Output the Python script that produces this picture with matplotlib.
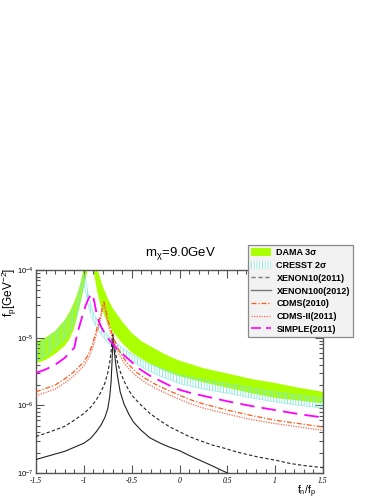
import matplotlib
matplotlib.use('Agg')
import numpy as np
import matplotlib.pyplot as plt
from matplotlib.patches import Patch
from matplotlib.lines import Line2D
from matplotlib.ticker import MultipleLocator, LogLocator, NullFormatter

plt.rcParams['font.family'] = ['Liberation Sans', 'DejaVu Sans']
plt.rcParams['mathtext.fontset'] = 'custom'
plt.rcParams['mathtext.rm'] = 'Liberation Sans'
plt.rcParams['mathtext.it'] = 'Liberation Serif:italic'
plt.rcParams['mathtext.default'] = 'regular'
plt.rcParams['hatch.linewidth'] = 0.6

# all y values are log10(f_p / GeV^-2)
dama_x  = [-1.5, -1.4, -1.3, -1.2, -1.15, -1.1, -1.05, -1.02, -1.0, -0.96, -0.93, -0.90, -0.86, -0.83, -0.8, -0.75, -0.7, -0.6, -0.5, -0.4, -0.3, -0.2, -0.1, 0.0, 0.25, 0.5, 0.75, 1.0, 1.25, 1.5]
dama_hi = [-5.06, -5.00, -4.90, -4.74, -4.62, -4.47, -4.27, -4.10, -3.95, -3.6, -3.4, -3.6, -3.97, -4.12, -4.25, -4.42, -4.56, -4.76, -4.93, -5.05, -5.13, -5.21, -5.28, -5.34, -5.45, -5.53, -5.61, -5.67, -5.74, -5.80]
dama_lo = [-5.38, -5.33, -5.24, -5.12, -5.02, -4.86, -4.58, -4.40, -4.25, -4.0, -3.85, -4.0, -4.32, -4.50, -4.62, -4.79, -4.91, -5.08, -5.22, -5.31, -5.39, -5.46, -5.52, -5.57, -5.66, -5.74, -5.82, -5.89, -5.93, -5.97]

cresst_x  = [-1.5, -1.4, -1.3, -1.2, -1.15, -1.1, -1.07, -1.04, -1.02, -1.0, -0.98, -0.95, -0.92, -0.89, -0.86, -0.83, -0.75, -0.66, -0.57, -0.48, -0.4, -0.31, -0.2, -0.1, 0.0, 0.25, 0.5, 0.75, 1.0, 1.25, 1.5]
cresst_hi = [-5.11, -5.03, -4.92, -4.77, -4.67, -4.53, -4.42, -4.27, -4.15, -4.05, -4.15, -4.38, -4.55, -4.66, -4.74, -4.82, -4.96, -5.08, -5.18, -5.26, -5.33, -5.39, -5.45, -5.50, -5.55, -5.62, -5.68, -5.74, -5.80, -5.85, -5.89]
cresst_lo = [-5.35, -5.27, -5.15, -5.02, -4.93, -4.78, -4.66, -4.48, -4.35, -4.20, -4.33, -4.54, -4.68, -4.79, -4.86, -4.93, -5.07, -5.18, -5.28, -5.36, -5.43, -5.50, -5.57, -5.62, -5.68, -5.76, -5.82, -5.89, -5.95, -6.00, -6.04]

xe10_x = [-1.5, -1.35, -1.2, -1.1, -1.0, -0.93, -0.87, -0.82, -0.78, -0.75, -0.73, -0.715, -0.70, -0.685, -0.67, -0.65, -0.62, -0.58, -0.53, -0.48, -0.4, -0.3, -0.2, -0.1, 0.0, 0.1, 0.21, 0.35, 0.46, 0.6, 0.81, 1.0, 1.16, 1.3, 1.5]
xe10_y = [-6.46, -6.39, -6.31, -6.22, -6.12, -6.03, -5.92, -5.80, -5.67, -5.52, -5.37, -5.20, -4.95, -5.10, -5.22, -5.35, -5.50, -5.64, -5.78, -5.88, -6.00, -6.13, -6.23, -6.32, -6.39, -6.46, -6.52, -6.59, -6.63, -6.69, -6.76, -6.81, -6.86, -6.89, -6.92]

xe100_x = [-1.5, -1.35, -1.2, -1.1, -1.0, -0.93, -0.87, -0.82, -0.78, -0.75, -0.73, -0.715, -0.705, -0.695, -0.685, -0.67, -0.65, -0.62, -0.58, -0.53, -0.48, -0.4, -0.31, -0.2, -0.1, 0.0, 0.1, 0.21, 0.32, 0.5, 0.75, 1.0, 1.5]
xe100_y = [-6.80, -6.74, -6.68, -6.62, -6.56, -6.49, -6.39, -6.29, -6.18, -6.05, -5.88, -5.65, -5.35, -4.95, -5.15, -5.35, -5.55, -5.80, -5.98, -6.13, -6.25, -6.37, -6.48, -6.56, -6.62, -6.67, -6.74, -6.81, -6.88, -7.0, -7.12, -7.22, -7.38]

cdms_x  = [-1.5, -1.4, -1.3, -1.2, -1.1, -1.0, -0.95, -0.91, -0.88, -0.85, -0.82, -0.80, -0.79, -0.775, -0.755, -0.73, -0.70, -0.66, -0.63, -0.58, -0.53, -0.45, -0.35, -0.25, -0.1, 0.0, 0.1, 0.25, 0.5, 0.75, 1.0, 1.25, 1.5]
cdms_y  = [-5.80, -5.75, -5.70, -5.61, -5.50, -5.36, -5.24, -5.10, -4.95, -4.80, -4.64, -4.50, -4.47, -4.55, -4.70, -4.83, -4.96, -5.10, -5.19, -5.31, -5.40, -5.51, -5.61, -5.69, -5.79, -5.85, -5.91, -5.98, -6.07, -6.15, -6.22, -6.27, -6.32]
cdms2_y = [-5.86, -5.81, -5.76, -5.67, -5.56, -5.42, -5.30, -5.16, -5.01, -4.86, -4.70, -4.55, -4.52, -4.60, -4.76, -4.89, -5.02, -5.16, -5.25, -5.37, -5.46, -5.57, -5.67, -5.75, -5.85, -5.91, -5.97, -6.04, -6.13, -6.21, -6.27, -6.32, -6.37]

simple_x = [-1.5, -1.4, -1.3, -1.2, -1.1, -1.07, -1.03, -0.98, -0.95, -0.92, -0.905, -0.89, -0.87, -0.85, -0.82, -0.78, -0.72, -0.65, -0.58, -0.5, -0.41, -0.3, -0.2, -0.1, 0.0, 0.1, 0.25, 0.5, 0.75, 1.0, 1.25, 1.5]
simple_y = [-5.52, -5.47, -5.40, -5.30, -5.15, -4.95, -4.75, -4.52, -4.42, -4.35, -4.38, -4.47, -4.62, -4.73, -4.84, -4.94, -5.06, -5.17, -5.26, -5.36, -5.47, -5.57, -5.64, -5.71, -5.77, -5.81, -5.86, -5.94, -6.01, -6.07, -6.13, -6.18]

labels = ['DAMA 3σ', 'CRESST 2σ', 'XENON10(2011)', 'XENON100(2012)', 'CDMS(2010)', 'CDMS-II(2011)', 'SIMPLE(2011)']

lime = '#aaff00'
cyan = '#7fe8dc'
orange = '#ff5a1a'
salmon = '#ff6a50'
magenta = '#ff00ff'
dark = '#222222'

def p(v):
    return 10.0 ** np.asarray(v)

fig = plt.figure(figsize=(3.88, 5.01), dpi=100)
ax = fig.add_axes([36/388, 28/501, 287/388, 203/501])

ax.fill_between(dama_x, p(dama_lo), p(dama_hi), facecolor=lime, edgecolor='none', zorder=1)
ax.fill_between(cresst_x, p(cresst_lo), p(cresst_hi), facecolor='none', edgecolor=cyan,
                hatch='||||||', linewidth=0.4, zorder=2)
ax.plot(xe10_x, p(xe10_y), color=dark, lw=0.8, dashes=(3, 2), zorder=3)
ax.plot(xe100_x, p(xe100_y), color=dark, lw=0.8, zorder=3)
ax.plot(cdms_x, p(cdms_y), color=orange, lw=0.9, dashes=(4, 1.5, 1, 1.5), zorder=3)
ax.plot(cdms_x, p(cdms2_y), color=salmon, lw=0.9, dashes=(1, 1), zorder=3)
ax.plot(simple_x, p(simple_y), color=magenta, lw=1.3, dashes=(8, 4), zorder=3)

ax.set_yscale('log')
ax.set_xlim(-1.5, 1.5)
ax.set_ylim(1e-7, 1e-4)

ax.set_xticks([-1.5, -1, -0.5, 0, 0.5, 1, 1.5])
ax.set_xticklabels(['-1.5', '-1', '-0.5', '0', '0.5', '1', '1.5'],
                   fontstyle='italic', family='Liberation Serif', fontsize=5.5)
ax.xaxis.set_minor_locator(MultipleLocator(0.1))
ax.set_yticks([1e-7, 1e-6, 1e-5, 1e-4])
ax.set_yticklabels([r'$\mathit{10^{-7}}$', r'$\mathit{10^{-6}}$', r'$\mathit{10^{-5}}$', r'$\mathit{10^{-4}}$'],
                   fontsize=5.5)
ax.yaxis.set_minor_locator(LogLocator(base=10, subs=np.arange(2, 10)))
ax.yaxis.set_minor_formatter(NullFormatter())

ax.tick_params(which='both', direction='in', top=True, right=True, color='#555555', width=0.8)
ax.tick_params(which='major', length=6, pad=2)
ax.tick_params(axis='x', which='major', pad=3)
ax.tick_params(which='minor', length=3)
for s in ax.spines.values():
    s.set_color('#555555')
    s.set_linewidth(1.0)

fig.text(180/388, 1 - 253/501, r'm$_{\chi}$=9.0GeV', ha='center', va='center', fontsize=9.5)
fig.text(9/388, 1 - 268/501, r'f$_{p}$[GeV$^{-2}$]', rotation=90, ha='center', va='top', fontsize=8.5)
fig.text(316/388, 1 - 494/501, r'f$_{n}$/f$_{p}$', ha='right', va='baseline', fontsize=7.5)

handles = [
    Patch(facecolor=lime, edgecolor='none'),
    Patch(facecolor='white', edgecolor=cyan, hatch='||||||', linewidth=0),
    Line2D([], [], color='#777777', lw=1.0, dashes=(3, 2)),
    Line2D([], [], color='#777777', lw=1.0),
    Line2D([], [], color=orange, lw=0.9, dashes=(4, 1.5, 1, 1.5)),
    Line2D([], [], color=salmon, lw=0.9, dashes=(1, 1)),
    Line2D([], [], color=magenta, lw=1.2, dashes=(6, 3)),
]
leg = fig.legend(handles, labels, loc='upper left', bbox_to_anchor=(248/388, 1 - 245/501),
                 bbox_transform=fig.transFigure, prop={'weight': 'bold', 'size': 6.5},
                 fancybox=False, framealpha=1, facecolor='#f2f2f2', edgecolor='#888888',
                 handlelength=2.2, handleheight=0.9, handletextpad=0.6, labelspacing=0.42,
                 borderpad=0.35, borderaxespad=0)
leg.get_frame().set_linewidth(0.9)

fig.savefig('out.png', dpi=100)
